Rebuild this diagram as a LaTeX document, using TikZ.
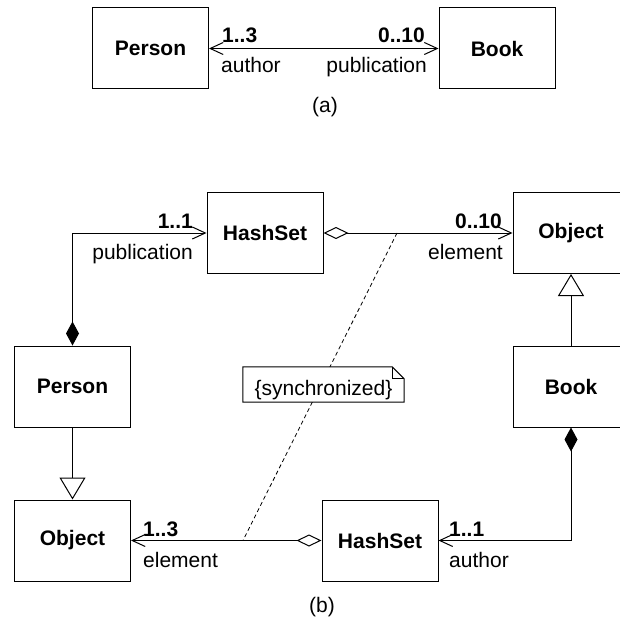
\documentclass[tikz,border=0pt]{standalone}
\usepackage{fontspec}
\setmainfont{Liberation Sans}
\usetikzlibrary{arrows.meta}
\tikzset{
  navtip/.tip={Straight Barb[length=13pt,width=12pt]},
  comptip/.tip={Diamond[length=24pt,width=13pt]},
  aggrtip/.tip={Diamond[open,length=25pt,width=12pt,fill=white]},
  gentip/.tip={Triangle[open,length=22pt,width=26pt,fill=white]},
}
\begin{document}
\begin{tikzpicture}[x=1pt,y=-1pt,
  txt/.style={font=\fontsize{21pt}{25pt}\selectfont, inner sep=0pt},
  cls/.style={draw, line width=1pt, minimum width=116pt, minimum height=81pt,
    inner sep=0pt, font=\fontsize{21pt}{25pt}\selectfont\bfseries},
  mult/.style={font=\fontsize{21pt}{25pt}\selectfont\bfseries, inner sep=0pt},
  role/.style={txt},
  assoc/.style={line width=1pt},
  constraint/.style={line width=0.8pt, dash pattern=on 4pt off 3pt},
  notebox/.style={fill=white, minimum width=161pt, text height=28pt, text depth=7pt,
    inner sep=0pt, font=\fontsize{21pt}{25pt}\selectfont},
]
\useasboundingbox (0,0) rectangle (619,620);

% ---- (a) bidirectional association ----
\node[cls] (personA) at (150.5,48.5) {Person};
\node[cls] (bookA) at (497,48.5) {Book};
\draw[assoc, {navtip}-{navtip}] (personA) -- (bookA);
\node[mult, anchor=base west] (multPA) at (222,43) {1..3};
\node[role, anchor=base west] (roleAuthorA) at (221,73) {author};
\node[mult, anchor=base east] (multBA) at (425,43) {0..10};
\node[role, anchor=base east] (rolePubA) at (427,73) {publication};
\node[txt] (capA) at (325,107) {(a)};

% ---- (b) implementation with hash sets ----
\node[cls] (hashTop) at (265,233) {HashSet};
\node[cls] (objTop) at (571,233) {Object};
\node[cls] (person) at (72.5,386.5) {Person};
\node[cls] (book) at (571,386.5) {Book};
\node[cls] (objBot) at (72.5,540.5) {Object};
\node[cls] (hashBot) at (380,540.5) {HashSet};

% points where the constraint line meets the two element links
\coordinate (syncTop) at (397,233);
\coordinate (syncBot) at (243,540.5);
\draw[constraint] (syncTop) -- (syncBot);

\draw[assoc, {comptip}-{navtip}] (person.north) |- (hashTop.west);
\draw[assoc, {aggrtip}-{navtip}] (hashTop.east) -- (objTop.west);
\draw[assoc, -{gentip}] (book.north) -- (objTop.south);
\draw[assoc, -{gentip}] (person.south) -- (objBot.north);
\draw[assoc, {comptip}-{navtip}] (book.south) |- (hashBot.east);
\draw[assoc, {aggrtip}-{navtip}] (hashBot.west) -- (objBot.east);

\node[mult, anchor=base east] (multHT) at (193,228) {1..1};
\node[role, anchor=base east] (rolePubB) at (193,259) {publication};
\node[mult, anchor=base east] (multOT) at (502,228) {0..10};
\node[role, anchor=base east] (roleElemT) at (503,259) {element};
\node[mult, anchor=base west] (multOB) at (143,536) {1..3};
\node[role, anchor=base west] (roleElemB) at (143,567) {element};
\node[mult, anchor=base west] (multHB) at (449,536) {1..1};
\node[role, anchor=base west] (roleAuthorB) at (449,567) {author};

% constraint note with folded corner
\node[notebox] (note) at (323.5,384.5) {\{synchronized\}};
\draw[line width=1pt] (note.south west) -- (note.north west)
  -- ([xshift=-12pt]note.north east) -- ([yshift=-12pt]note.north east)
  -- (note.south east) -- cycle;
\draw[line width=1pt] ([xshift=-12pt]note.north east) |- ([yshift=-12pt]note.north east);

\node[txt] (capB) at (322,607) {(b)};
\end{tikzpicture}
\end{document}
